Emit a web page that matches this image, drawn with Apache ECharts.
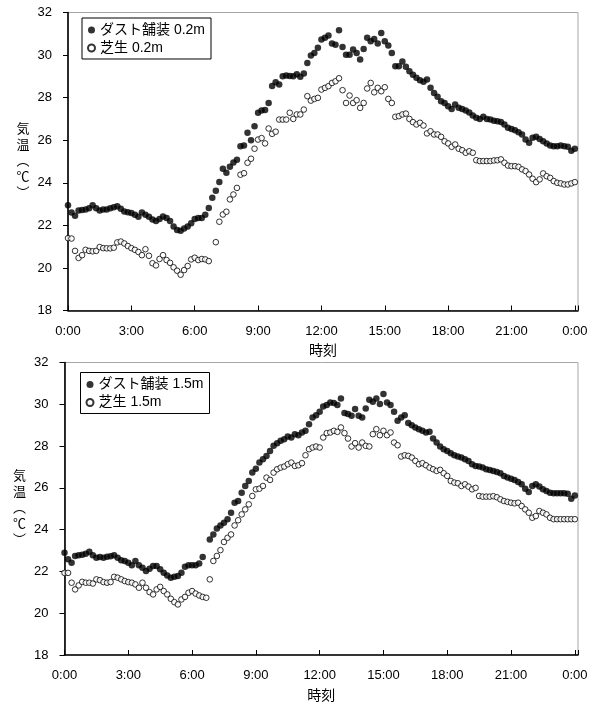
<!DOCTYPE html>
<html><head><meta charset="utf-8">
<script src="https://cdn.jsdelivr.net/npm/echarts@6/dist/echarts.min.js"></script>
<style>html,body{margin:0;padding:0;background:#fff}#c{width:598px;height:704px}</style>
</head><body><div id="c"></div>
<script>
// 10-minute readings, 0:00 .. 24:00 (145 values); null = missing reading
const dust02 = [
22.95,22.6,22.45,22.7,22.72,22.75,22.8,22.95,22.8,22.7,
22.75,22.75,22.8,22.85,22.9,22.78,22.65,22.62,22.58,22.5,
22.4,22.6,22.5,22.4,22.28,22.2,22.3,22.42,22.35,22.2,
21.95,21.78,21.75,21.85,21.95,22.1,22.3,22.35,22.35,22.5,
22.82,23.3,23.63,24.04,24.66,24.47,24.75,24.95,25.08,25.72,
25.75,26.35,26.0,26.66,27.29,27.4,27.42,27.75,28.55,28.72,
28.62,29.0,29.04,29.02,29.0,29.1,28.98,29.13,29.63,29.98,
30.1,30.34,30.73,30.81,30.92,30.54,30.49,31.17,30.38,30.02,
30.02,30.26,30.1,29.79,30.29,30.81,30.65,30.76,30.54,31.04,
30.65,30.45,30.1,29.48,29.48,29.7,29.45,29.24,29.08,28.93,
28.82,28.75,28.85,28.46,28.22,28.04,27.83,27.75,27.6,27.47,
27.68,27.52,27.47,27.4,27.3,27.16,27.05,27.0,27.1,27.0,
26.97,26.92,26.89,26.85,26.74,26.58,26.53,26.47,26.38,26.27,
26.03,25.88,26.11,26.16,26.06,25.95,25.85,25.75,25.72,25.72,
25.75,25.72,25.69,25.5,25.6];
const grass02 = [
21.4,21.38,20.8,20.47,20.6,20.85,20.8,20.78,20.8,20.98,
20.93,20.92,20.92,20.95,21.2,21.24,21.15,21.03,20.93,20.85,
20.75,20.6,20.88,20.57,20.22,20.12,20.42,20.6,20.37,20.24,
20.03,19.87,19.68,19.9,20.09,20.4,20.48,20.37,20.42,20.4,
20.32,null,21.21,22.17,22.51,22.64,23.22,23.45,23.76,24.38,
24.45,24.94,25.13,25.6,26.03,26.1,25.85,26.55,26.3,26.4,
26.97,26.97,26.97,27.29,27.0,27.21,27.21,27.44,28.07,27.86,
27.94,27.99,28.38,28.46,28.54,28.69,28.77,28.91,28.35,27.75,
28.1,27.75,27.88,27.52,27.75,28.43,28.69,28.25,28.46,28.3,
28.49,27.94,27.75,27.1,27.13,27.21,27.25,27.0,26.85,26.74,
26.82,26.69,26.32,26.42,26.27,26.27,26.16,25.95,25.85,25.69,
25.8,25.6,25.53,25.41,25.48,25.41,25.06,25.02,25.02,25.02,
25.02,25.05,25.06,25.1,24.94,24.81,24.78,24.78,24.75,24.63,
24.55,24.39,24.19,24.03,24.16,24.44,24.31,24.23,24.08,24.0,
23.97,23.92,23.92,23.97,24.03];
const dust15 = [
22.9,22.58,22.42,22.74,22.77,22.8,22.85,22.94,22.77,22.66,
22.69,22.66,22.7,22.73,22.77,22.66,22.54,22.5,22.42,22.29,
22.5,22.29,22.18,22.02,22.13,22.26,22.26,22.1,21.94,21.81,
21.7,21.74,21.78,21.94,22.22,22.29,22.29,22.29,22.38,22.69,
null,23.53,23.77,24.05,24.2,24.33,24.5,24.81,25.29,25.37,
25.77,26.09,26.33,26.73,26.92,27.21,27.37,27.53,27.77,28.01,
28.14,28.25,28.33,28.46,28.41,28.57,28.52,28.65,28.73,29.05,
29.37,29.48,29.64,29.9,29.96,30.09,30.06,29.96,30.28,29.58,
29.53,29.45,29.77,29.45,29.37,29.8,30.22,30.12,30.28,30.01,
30.49,30.09,29.96,29.64,29.21,29.37,29.48,29.1,29.0,28.89,
28.81,28.73,28.65,28.68,28.36,28.17,27.98,27.85,27.77,27.66,
27.56,27.5,27.45,27.37,27.29,27.13,27.05,27.02,26.97,26.89,
26.86,26.81,26.76,26.7,26.57,26.49,26.44,26.38,26.28,26.17,
25.96,25.8,26.09,26.17,26.06,25.93,25.85,25.77,25.74,25.74,
25.74,25.74,25.72,25.48,25.64];
const grass15 = [
21.93,21.93,21.46,21.14,21.33,21.5,21.46,21.46,21.42,21.62,
21.58,21.49,21.46,21.49,21.74,21.7,21.62,21.54,21.49,21.46,
21.38,21.22,21.46,21.22,21.01,20.9,21.14,21.26,21.06,20.9,
20.69,20.53,20.42,20.66,20.78,20.98,21.06,20.94,20.85,20.78,
20.74,21.62,22.5,22.74,23.02,23.41,23.61,23.77,24.2,24.45,
24.73,24.97,25.21,25.61,25.93,25.96,26.09,26.49,26.38,26.73,
26.89,26.97,27.02,27.13,27.21,27.05,27.08,27.18,27.56,27.85,
27.93,27.98,27.93,28.41,28.62,28.65,28.73,28.68,28.89,28.62,
28.36,27.98,28.14,27.93,28.17,28.01,27.98,28.57,28.81,28.52,
28.73,28.52,28.65,28.17,28.04,27.5,27.56,27.53,27.45,27.29,
27.13,27.18,27.08,26.97,26.89,26.81,26.86,26.7,26.57,26.33,
26.25,26.22,26.09,26.17,26.06,25.93,26.0,25.61,25.58,25.58,
25.58,25.6,25.55,25.45,25.37,25.33,25.29,25.26,25.29,25.13,
24.97,24.81,24.57,24.65,24.89,24.81,24.73,24.57,24.5,24.5,
24.5,24.5,24.5,24.5,24.5];

const stepMinutes = 10;
const xTickLabels = ['0:00','3:00','6:00','9:00','12:00','15:00','18:00','21:00','0:00'];
const xTickStep = 180;
const seriesNames = [['ダスト舗装 0.2m','芝生 0.2m'],['ダスト舗装 1.5m','芝生 1.5m']];
const xName = '時刻';
const yName = '気\n温\n︵\n℃\n︶';

const FONT = "'Liberation Sans', Arial, 'Noto Sans CJK JP', sans-serif";
const toPoints = arr => arr.map((v,i)=>[i*stepMinutes, v]).filter(p=>p[1]!==null);

const grids = [
  {left:68, top:12.5, right:20, height:298},
  {left:64.5, top:362.5, right:20, height:293}
];
const legendPos = [{left:82, top:18}, {left:80.5, top:372.5}];

function xAxis(g){
  return {type:'value', gridIndex:g, min:0, max:1449, interval:xTickStep,
    axisLine:{show:true, onZero:false, lineStyle:{color:'#000', width:1.6}},
    axisTick:{show:true, inside:true, length:5, lineStyle:{color:'#000', width:1}},
    axisLabel:{color:'#000', fontSize:13, fontFamily:FONT, margin:14,
      formatter: v => (v % xTickStep === 0) ? xTickLabels[v / xTickStep] : ''},
    splitLine:{show:false},
    name:xName, nameLocation:'middle', nameGap:41,
    nameTextStyle:{color:'#000', fontSize:14, fontFamily:FONT, verticalAlign:'middle'}};
}
function yAxis(g){
  return {type:'value', gridIndex:g, min:18, max:32, interval:2,
    axisLine:{show:true, onZero:false, lineStyle:{color:'#000', width:1.6}},
    axisTick:{show:true, inside:false, length:5, lineStyle:{color:'#000', width:1}},
    axisLabel:{color:'#000', fontSize:13, fontFamily:FONT, margin:16},
    splitLine:{show:false},
    name:yName, nameLocation:'middle', nameRotate:0, nameGap:45,
    nameTextStyle:{color:'#000', fontSize:13, lineHeight:16, fontFamily:FONT, align:'center', verticalAlign:'middle'}};
}
function legend(g){
  return Object.assign({orient:'vertical', data:seriesNames[g], icon:'circle',
    itemWidth:7, itemHeight:7, itemGap:4, padding:[5,6,4,5],
    backgroundColor:'#fff', borderColor:'#000', borderWidth:1, borderRadius:0,
    textStyle:{color:'#000', fontSize:14, fontFamily:FONT}, selectedMode:false}, legendPos[g]);
}
const panelData = [[dust02, grass02],[dust15, grass15]];
const series = [];
panelData.forEach((pair,g)=>{
  series.push({name:seriesNames[g][0], type:'scatter', xAxisIndex:g, yAxisIndex:g,
    data:toPoints(pair[0]), symbol:'circle', symbolSize:6.5, z:3,
    itemStyle:{color:'#000'}});
  series.push({name:seriesNames[g][1], type:'scatter', xAxisIndex:g, yAxisIndex:g,
    data:toPoints(pair[1]), symbol:'circle', symbolSize:5.6, z:2,
    itemStyle:{color:'#fff', borderColor:'#000', borderWidth:1}});
});

const chart = echarts.init(document.getElementById('c'), null, {renderer:'canvas'});
chart.setOption({
  animation:false,
  backgroundColor:'#fff',
  grid: grids.map(g=>Object.assign({show:true, borderColor:'#a6a6a6', borderWidth:1, backgroundColor:'transparent'}, g)),
  xAxis:[xAxis(0), xAxis(1)],
  yAxis:[yAxis(0), yAxis(1)],
  legend:[legend(0), legend(1)],
  series
});
</script></body></html>
